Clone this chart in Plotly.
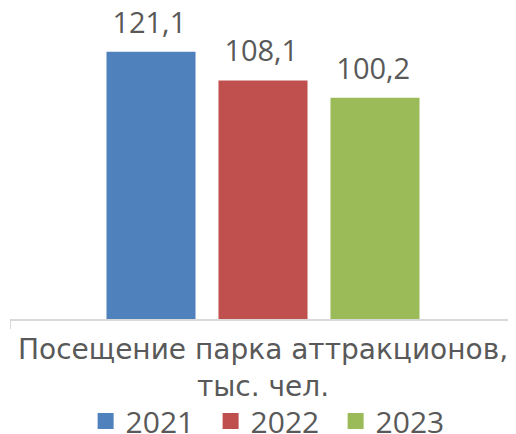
import plotly.graph_objects as go

categories = ["Посещение парка аттракционов,<br>тыс. чел."]
years = ["2021", "2022", "2023"]
values = [121.1, 108.1, 100.2]
colors = ["#4F81BD", "#C0504D", "#9BBB59"]

TXT = "#595959"
FONT = "Open Sans"

fig = go.Figure()
for yr, v, c in zip(years, values, colors):
    fig.add_trace(go.Bar(
        x=categories, y=[v], name=yr, marker=dict(color=c, line=dict(width=0)),
        texttemplate="%{y:.1f}<sub><span style='font-size:34px'>\u200a</span></sub>",
        textposition="outside",
        textfont=dict(size=29, color=TXT, family=FONT),
        cliponaxis=False, showlegend=False,
    ))
    fig.add_trace(go.Scatter(
        x=[None], y=[None], mode="markers", name=yr,
        marker=dict(symbol="square", size=18, color=c),
    ))

# page body has an 8px default margin, so the figure is 8px smaller
fig.update_layout(
    width=508, height=426,
    margin=dict(l=2, r=0, t=2, b=115, autoexpand=False),
    paper_bgcolor="white", plot_bgcolor="white",
    separators=", ",
    barmode="group", bargap=0.336, bargroupgap=0.205,
    font=dict(family=FONT, color=TXT, size=24),
    showlegend=True,
    legend=dict(orientation="h", x=0.52, xanchor="center", y=-0.33, yanchor="middle",
                bgcolor="rgba(0,0,0,0)",
                font=dict(size=30, color=TXT, family=FONT),
                entrywidth=80, entrywidthmode="pixels",
                itemsizing="trace", traceorder="normal"),
)
fig.update_xaxes(
    showline=True, linecolor="#D9D9D9", linewidth=1.5,
    ticks="outside", tickson="boundaries", ticklen=8, tickcolor="#D9D9D9",
    tickfont=dict(size=28, color=TXT, family="DejaVu Sans"),
    ticklabelstandoff=5,
    showgrid=False, automargin=False,
)
fig.update_yaxes(range=[0, 140], visible=False, showgrid=False)

fig.write_html("out.html")
